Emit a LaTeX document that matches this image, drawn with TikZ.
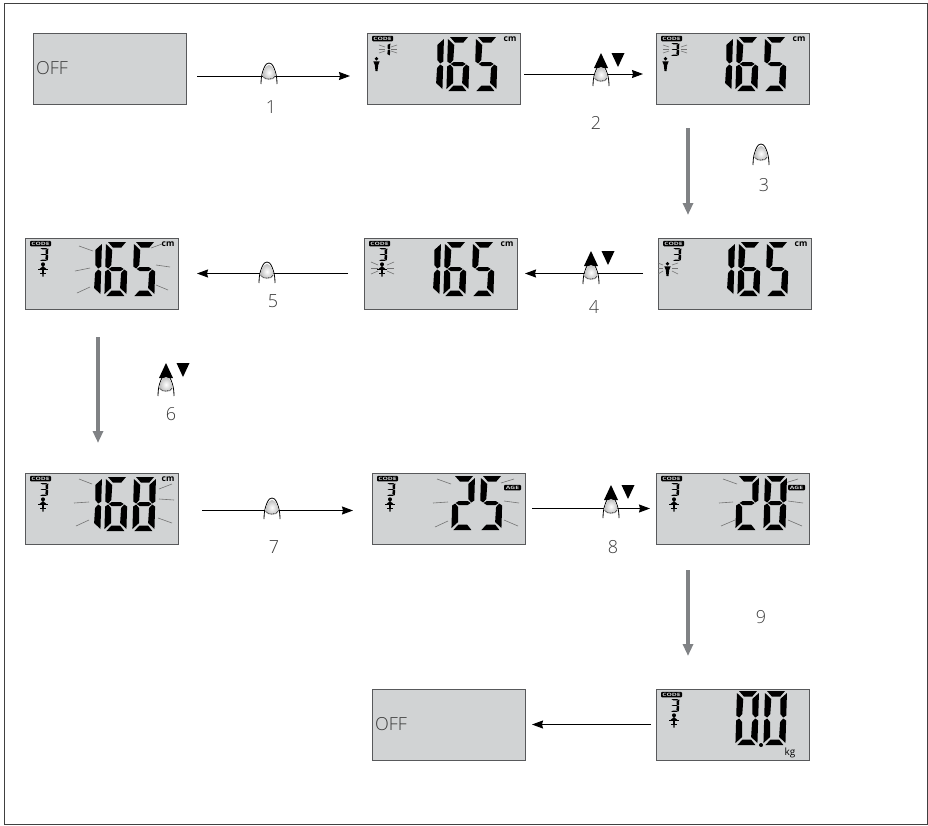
\documentclass[tikz,border=0pt]{standalone}
\usepackage{graphicx}
\usepackage{fontspec}
\setmainfont{Open Sans}
\newfontfamily\lightfont{Open Sans Light}
\usetikzlibrary{arrows.meta}
\definecolor{lcdgray}{HTML}{D1D3D4}
\definecolor{lcdedge}{HTML}{58595B}
\definecolor{flowgray}{HTML}{808285}
\definecolor{labelgray}{HTML}{3A3A3A}
\tikzset{
  lcdbox/.style={draw=lcdedge,fill=lcdgray,line width=1pt,anchor=north west,minimum width=153pt,minimum height=71pt,inner sep=0pt,outer sep=0pt},
  offbox/.style={lcdbox,text width=147pt,align=left,text=labelgray,font=\lightfont\fontsize{18}{18}\selectfont},
  flow/.style={draw=black,line width=1pt,-{Stealth[length=11pt,width=8pt,inset=1pt]}},
  grayflow/.style={draw=flowgray,line width=3.5pt,-{Triangle[length=12pt,width=10pt]}},
  numlabel/.style={text=labelgray,font=\lightfont\fontsize{18}{18}\selectfont,inner sep=0pt},
  codetag/.style={fill=black,rounded corners=1pt,minimum width=21pt,minimum height=5.5pt,inner sep=0pt,text=lcdgray,font=\fontsize{4.5}{4.5}\selectfont\bfseries},
  unittext/.style={inner sep=0pt,font=\fontsize{8.5}{8.5}\selectfont\bfseries},
  ray/.style={draw=black!55,line width=.6pt},
  finger/.pic={
    \draw[line width=.8pt] (-8,21) .. controls (-8,14) and (-7,10) .. (-5,5) .. controls (-3.5,1) and (-1.5,0) .. (0,0) .. controls (1.5,0) and (3.5,1) .. (5,5) .. controls (7,10) and (8,14) .. (8,21);
    \shade[inner color=white,outer color=black!25] (0,2) .. controls (3,2) and (6.5,8) .. (6.5,12) .. controls (6.5,16) and (3,17) .. (0,17) .. controls (-3,17) and (-6.5,16) .. (-6.5,12) .. controls (-6.5,8) and (-3,2) .. (0,2) -- cycle;
    \draw[line width=.7pt,densely dotted] (-6.5,13) .. controls (-5,17) and (5,17) .. (6.5,13);
  },
  fingerkeys/.pic={
    \fill (0,-12) -- (7,3) -- (-7,3) -- cycle;
    \fill (10.5,-12) -- (23.5,-12) -- (17,2) -- cycle;
    \pic {finger};
  }
}
% segments of one display digit
\newcommand{\lcdsega}{(2,0)--(20,0)--(15.5,5.5)--(7,5.5)--cycle}
\newcommand{\lcdsegf}{(0,2)--(6.5,8)--(6,23)--(3,26.5)--(0,24.5)--cycle}
\newcommand{\lcdsegb}{(22,2)--(22,24.5)--(19,26.5)--(16,23)--(15.5,8)--cycle}
\newcommand{\lcdsegg}{(3.5,27)--(6.5,25)--(15.5,25)--(18.5,27)--(15.5,29)--(6.5,29)--cycle}
\newcommand{\lcdsege}{(0,29.5)--(3,27.5)--(6,31)--(6.5,46)--(0,52)--cycle}
\newcommand{\lcdsegc}{(22,29.5)--(22,52)--(15.5,46)--(16,31)--(19,27.5)--cycle}
\newcommand{\lcdsegd}{(2,54)--(20,54)--(15.5,48.5)--(7,48.5)--cycle}
\newcommand{\lcdzero}{a,b,c,d,e,f}
\newcommand{\lcdone}{b,c}
\newcommand{\lcdtwo}{a,b,g,e,d}
\newcommand{\lcdthree}{a,b,g,c,d}
\newcommand{\lcdfive}{a,f,g,c,d}
\newcommand{\lcdsix}{a,f,g,e,c,d}
\newcommand{\lcdeight}{a,b,c,d,e,f,g}
\newcommand{\lcddigit}[4][]{\begin{scope}[shift={(#2,#3)},xslant=.03,#1]
  \foreach \s in #4 {\fill \csname lcdseg\s\endcsname;}
\end{scope}}
\newcommand{\lcdread}[3]{\lcddigit{55}{4}{#1}\lcddigit{81}{4}{#2}\lcddigit{109}{4}{#3}}
\newcommand{\lcdcode}[2]{\node[codetag] (#1code) at (15.5,5.5) {\scalebox{1.5}[1]{CODE}};
  \lcddigit[xscale=.4,yscale=.24]{14.5}{10}{#2}}
\newcommand{\lcdrays}[1]{\foreach \xa/\ya/\xb/\yb in {#1} {\draw[ray] (\xa,\ya) -- (\xb,\yb);}}
\newcommand{\lcdman}{\fill (9.5,25.7) circle (1.9);
  \fill (6.3,28.3) -- (12.7,28.3) -- (11.2,32) -- (10.5,38) -- (8.5,38) -- (7.8,32) -- cycle;}
\newcommand{\lcdstick}{\fill (18,26.3) circle (2);
  \fill (18,28) -- (21.5,31) -- (14.5,31) -- cycle;
  \fill (17,31) -- (19,31) -- (18.6,38.5) -- (17.4,38.5) -- cycle;
  \draw[line width=1pt] (13,31.3) -- (23,31.3);
  \draw[line width=.8pt] (15,35.5) -- (21,35.5);}
\begin{document}
\begin{tikzpicture}[x=1pt,y=-1pt]
\useasboundingbox (0,0) rectangle (928,825);
\draw[line width=1pt,draw=black!75] (4,3) rectangle (927,824);
% displays
\node[offbox] (offa) at (33,33) {OFF};
\node[lcdbox] (dispb) at (367,33) {};
\node[lcdbox] (dispc) at (656,33) {};
\node[lcdbox] (dispd) at (658,238) {};
\node[lcdbox] (dispe) at (364,238) {};
\node[lcdbox] (dispf) at (25,238) {};
\node[lcdbox] (dispg) at (25,473) {};
\node[lcdbox] (disph) at (372,473) {};
\node[lcdbox] (dispi) at (656,473) {};
\node[lcdbox] (dispj) at (656,689) {};
\node[offbox] (offb) at (372,689) {OFF};
\begin{scope}[shift={(dispb.north west)}]
\lcdcode{dispb}{\lcdone} \lcdman
\lcdrays{12/12/18/14,12/16/18/16,12/20/18/18,24/14/30/12,24/16/30/16,24/18/30/20}
\lcdread{\lcdone}{\lcdsix}{\lcdfive}
\node[unittext] (dispbunit) at (143,6) {cm};
\end{scope}
\begin{scope}[shift={(dispc.north west)}]
\lcdcode{dispc}{\lcdthree} \lcdman
\lcdrays{7/12/13/14,7/16/13/16,7/20/13/18,25/14/31/12,25/16/31/16,25/18/31/20}
\lcdread{\lcdone}{\lcdsix}{\lcdfive}
\node[unittext] (dispcunit) at (143,6) {cm};
\end{scope}
\begin{scope}[shift={(dispd.north west)}]
\lcdcode{dispd}{\lcdthree} \lcdman
\lcdrays{0/25/5/27,0/30/5/30,0/36/5/33,14/27/20/25,14/30/20/30,14/33/20/36}
\lcdread{\lcdone}{\lcdsix}{\lcdfive}
\node[unittext] (dispdunit) at (143,6) {cm};
\end{scope}
\begin{scope}[shift={(dispe.north west)}]
\lcdcode{dispe}{\lcdthree} \lcdstick
\lcdrays{7/24/14/27,7/30/14/30,7/36/14/33,23/27/30/24,23/30/30/30,23/33/30/36}
\lcdread{\lcdone}{\lcdsix}{\lcdfive}
\node[unittext] (dispeunit) at (143,6) {cm};
\end{scope}
\begin{scope}[shift={(dispf.north west)}]
\lcdcode{dispf}{\lcdthree} \lcdstick
\lcdrays{54/8/68/13,50/33/65/30,52/55/65/49,126/10/137/6,131/27/145/29,131/47/143/52}
\lcdread{\lcdone}{\lcdsix}{\lcdfive}
\node[unittext] (dispfunit) at (143,6) {cm};
\end{scope}
\begin{scope}[shift={(dispg.north west)}]
\lcdcode{dispg}{\lcdthree} \lcdstick
\lcdrays{54/6/67/11,49/30/64/29,51/53/64/47,134/16/147/11,134/26/149/27,133/45/147/50}
\lcdread{\lcdone}{\lcdsix}{\lcdeight}
\node[unittext] (dispgunit) at (143,6) {cm};
\end{scope}
\begin{scope}[shift={(disph.north west)}]
\lcdcode{disph}{\lcdthree} \lcdstick
\lcdrays{65/6/79/11,61/30/76/29,63/54/76/48,129/10/142/6,132/28/147/30,132/47/146/53}
\lcddigit{81}{3}{\lcdtwo} \lcddigit{109}{3}{\lcdfive}
\node[codetag,minimum width=17pt] (disphunit) at (140.5,14.5) {\scalebox{1.5}[1]{AGE}};
\end{scope}
\begin{scope}[shift={(dispi.north west)}]
\lcdcode{dispi}{\lcdthree} \lcdstick
\lcdrays{67/6/81/11,63/30/77/29,65/53/79/47,129/10/142/6,132/28/147/30,132/47/146/53}
\lcddigit{81}{3}{\lcdtwo} \lcddigit{109}{3}{\lcdeight}
\node[codetag,minimum width=17pt] (dispiunit) at (140.5,14.5) {\scalebox{1.5}[1]{AGE}};
\end{scope}
\begin{scope}[shift={(dispj.north west)}]
\lcdcode{dispj}{\lcdthree} \lcdstick
\lcddigit{81}{2}{\lcdzero} \lcddigit{109}{2}{\lcdzero}
\fill (105,56) circle (2);
\node[unittext,font=\fontsize{10}{10}\selectfont] (dispjunit) at (134,64) {kg};
\end{scope}
% arrows
\draw[flow] ([shift={(11,7.5)}]offa.east) -- ([shift={(-17,7.5)}]dispb.west);
\draw[flow] ([shift={(4,5.5)}]dispb.east) -- ([shift={(-13,5.5)}]dispc.west);
\draw[grayflow] ([shift={(32,24)}]dispc.south west) -- ([shift={(30,-23)}]dispd.north west);
\draw[flow] ([xshift=-15]dispd.west) -- ([xshift=8]dispe.east);
\draw[flow] ([xshift=-16]dispe.west) -- ([xshift=19]dispf.east);
\draw[grayflow] ([shift={(73,28)}]dispf.south west) -- ([shift={(73,-30)}]dispg.north west);
\draw[flow] ([shift={(24,2)}]dispg.east) -- ([shift={(-19,2)}]disph.west);
\draw[flow] ([xshift=7]disph.east) -- ([xshift=-6]dispi.west);
\draw[grayflow] ([shift={(32,26)}]dispi.south west) -- ([shift={(32,-33)}]dispj.north west);
\draw[flow] ([xshift=-5]dispj.west) -- ([xshift=7]offb.east);
% fingers
\pic at (269,63) {finger};
\pic at (601,65) {fingerkeys};
\pic at (761,144) {finger};
\pic at (591,263) {fingerkeys};
\pic at (267,262) {finger};
\pic at (166,375) {fingerkeys};
\pic at (272,498) {finger};
\pic at (611,497) {fingerkeys};
% step numbers
\node[numlabel] (stepa) at (271,107) {1};
\node[numlabel] (stepb) at (596,123) {2};
\node[numlabel] (stepc) at (764,185) {3};
\node[numlabel] (stepd) at (594,307) {4};
\node[numlabel] (stepe) at (273,301) {5};
\node[numlabel] (stepf) at (171,414) {6};
\node[numlabel] (stepg) at (274,547) {7};
\node[numlabel] (steph) at (613,547) {8};
\node[numlabel] (stepi) at (761,617) {9};
\end{tikzpicture}
\end{document}
